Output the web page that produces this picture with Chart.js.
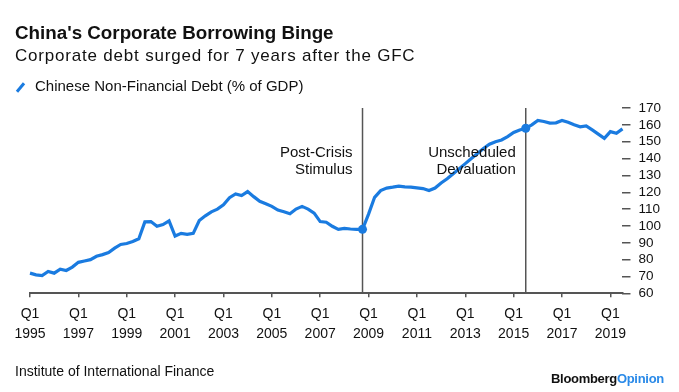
<!DOCTYPE html>
<html>
<head>
<meta charset="utf-8">
<script src="https://cdn.jsdelivr.net/npm/chart.js@4"></script>
<style>
  body { margin: 0; background: #fff; font-family: "Liberation Sans", Arial, sans-serif; }
  #wrap { position: relative; width: 679px; height: 392px; overflow: hidden; }
  #grafico { position: absolute; left: 0; top: 0; }
  .txt { position: absolute; white-space: nowrap; color: #111; }
  #titulo { left: 15px; top: 24px; font-size: 18.8px; line-height: 18px; font-weight: bold; }
  #subtitulo { left: 15px; top: 46.5px; font-size: 17px; line-height: 17px; letter-spacing: 0.8px; }
  #legenda { left: 35px; top: 78px; font-size: 15px; line-height: 15px; }
  #marcaLegenda { position: absolute; left: 15px; top: 86px; width: 11px; height: 3px; background: #1a7be0; transform: rotate(-50deg); }
  #fonte { left: 15px; top: 364px; font-size: 14px; line-height: 14px; }
  #logo { left: 551px; top: 373px; font-size: 13px; line-height: 12px; font-weight: bold; letter-spacing: -0.3px; }
  #logo span { color: #2a8ae8; }
</style>
</head>
<body>
<div id="wrap">
  <canvas id="grafico" width="679" height="392"></canvas>
  <div class="txt" id="titulo">China's Corporate Borrowing Binge</div>
  <div class="txt" id="subtitulo">Corporate debt surged for 7 years after the GFC</div>
  <div id="marcaLegenda"></div>
  <div class="txt" id="legenda">Chinese Non-Financial Debt (% of GDP)</div>
  <div class="txt" id="fonte">Institute of International Finance</div>
  <div class="txt" id="logo">Bloomberg<span>Opinion</span></div>
</div>
<script>
// Trimestres de 1995 Q1 a 2019 Q3
const anoInicial = 1995;
const anoFinal = 2019;
const trimestres = [];
for (let a = anoInicial; a <= anoFinal; a++) {
    for (let q = 1; q <= 4; q++) {
        if (a === anoFinal && q > 3) break;
        trimestres.push('Q' + q + ' ' + a);
    }
}

// Dívida não financeira chinesa (% do PIB)
const dividaPIB = [
    72, 71, 70.6, 73, 72, 74.4, 73.6, 75.6, 78.4, 79.2, 80, 82,
    83, 84.2, 86.8, 89, 89.6, 90.8, 92.4, 102.4, 102.6, 99.8, 100.8, 103,
    94, 95.6, 95, 95.6, 103.2, 106, 108.4, 110, 112.6, 116.8, 119, 118,
    120.4, 117.4, 114.6, 113.2, 111.6, 109.4, 108.4, 107.2, 110, 111.6, 110, 107.6,
    102.6, 102.2, 99.8, 98, 98.6, 98.2, 98, 98, 107, 117, 121, 122.5,
    123, 123.6, 123.2, 123, 122.6, 122.2, 121, 122.5, 125.5, 128, 131, 134,
    137, 140, 143, 146, 148.5, 150, 151, 153, 155.5, 157, 158, 160,
    162.6, 162, 161, 161.2, 162.6, 161.5, 160, 158.8, 159.4, 157, 154.5, 152,
    156, 155, 157.6
];

// Eventos marcados com linha vertical
const eventos = ['Q4 2008', 'Q3 2015'];
const textosEventos = [['Post-Crisis', 'Stimulus'], ['Unscheduled', 'Devaluation']];

// Ticks do eixo y
const yMin = 60;
const yMax = 170;
const yPasso = 10;

const azul = '#1a7be0';
const cinza = '#555555';

const indicesEventos = eventos.map(e => trimestres.indexOf(e));

// Plugin para as linhas verticais e os textos
const pluginEventos = {
    id: 'eventos',
    beforeDatasetsDraw(chart) {
        const ctx = chart.ctx;
        const area = chart.chartArea;
        ctx.save();
        ctx.strokeStyle = cinza;
        ctx.lineWidth = 1.5;
        indicesEventos.forEach(i => {
            const x = chart.scales.x.getPixelForValue(i);
            ctx.beginPath();
            ctx.moveTo(x, area.top);
            ctx.lineTo(x, area.bottom);
            ctx.stroke();
        });
        ctx.restore();
    },
    afterDatasetsDraw(chart) {
        const ctx = chart.ctx;
        ctx.save();
        ctx.font = '15px "Liberation Sans", Arial, sans-serif';
        ctx.fillStyle = '#111';
        ctx.textAlign = 'right';
        ctx.textBaseline = 'alphabetic';
        indicesEventos.forEach((i, k) => {
            const x = chart.scales.x.getPixelForValue(i) - 10;
            textosEventos[k].forEach((linha, j) => {
                ctx.fillText(linha, x, 157 + j * 17);
            });
        });
        ctx.restore();
    }
};

const config = {
    type: 'line',
    data: {
        labels: trimestres,
        datasets: [{
            label: 'Chinese Non-Financial Debt (% of GDP)',
            data: dividaPIB,
            borderColor: azul,
            backgroundColor: azul,
            borderWidth: 3.2,
            tension: 0,
            pointRadius: ctx => indicesEventos.includes(ctx.dataIndex) ? 4.5 : 0,
            pointBorderWidth: 0
        }]
    },
    options: {
        responsive: false,
        animation: false,
        layout: {
            padding: { left: 30, right: 10, top: 108, bottom: 41 }
        },
        plugins: {
            legend: { display: false },
            title: { display: false },
            tooltip: { enabled: false }
        },
        scales: {
            x: {
                grid: {
                    drawOnChartArea: false,
                    color: cinza,
                    tickLength: 4,
                    lineWidth: 1.5
                },
                border: { display: true, color: cinza, width: 2 },
                ticks: {
                    autoSkip: false,
                    maxRotation: 0,
                    padding: 7.5,
                    color: '#111',
                    font: { size: 14, family: '"Liberation Sans", Arial, sans-serif', lineHeight: 1.38 },
                    callback: function (valor, indice) {
                        const rotulo = trimestres[indice];
                        if (rotulo.startsWith('Q1') && (Number(rotulo.slice(3)) - anoInicial) % 2 === 0) {
                            return rotulo.split(' ');
                        }
                        return null;
                    }
                }
            },
            y: {
                position: 'right',
                min: yMin,
                max: yMax,
                grid: {
                    drawOnChartArea: false,
                    color: cinza,
                    tickLength: 8,
                    lineWidth: 1.5
                },
                border: { display: false },
                ticks: {
                    stepSize: yPasso,
                    maxTicksLimit: 20,
                    autoSkip: false,
                    padding: 8,
                    color: '#111',
                    font: { size: 13.5, family: '"Liberation Sans", Arial, sans-serif' }
                }
            }
        }
    },
    plugins: [pluginEventos]
};

new Chart(document.getElementById('grafico'), config);
</script>
</body>
</html>
